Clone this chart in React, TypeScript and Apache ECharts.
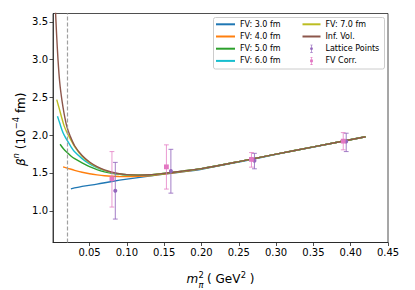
import React, { useEffect, useRef } from "react";
import * as echarts from "echarts";

const FONT = "DejaVu Sans";

// x: m_pi^2 (GeV^2), y: beta^n (10^-4 fm)
const fv30 = [
  [0.025, 1.29], [0.04, 1.322], [0.06, 1.352], [0.08, 1.387], [0.1, 1.418], [0.125, 1.452],
  [0.15, 1.484], [0.175, 1.515], [0.2, 1.55], [0.25, 1.645], [0.3, 1.746], [0.35, 1.844], [0.42, 1.98],
];
const fv40 = [
  [0.0145, 1.58], [0.02, 1.565], [0.03, 1.535], [0.04, 1.51], [0.05, 1.49], [0.06, 1.475], [0.07, 1.463],
  [0.08, 1.456], [0.09, 1.453], [0.1, 1.452], [0.115, 1.455], [0.13, 1.463], [0.15, 1.485], [0.175, 1.518],
  [0.2, 1.555], [0.25, 1.65], [0.3, 1.75], [0.35, 1.845], [0.42, 1.98],
];
const fv50 = [
  [0.0105, 1.88], [0.015, 1.82], [0.02, 1.77], [0.025, 1.725], [0.03, 1.69], [0.04, 1.635], [0.05, 1.585],
  [0.06, 1.545], [0.07, 1.515], [0.08, 1.494], [0.09, 1.481], [0.1, 1.473], [0.115, 1.469], [0.13, 1.473],
  [0.15, 1.493], [0.175, 1.524], [0.2, 1.557], [0.25, 1.65], [0.3, 1.75], [0.35, 1.845], [0.42, 1.98],
];
const fv60 = [
  [0.007, 2.25], [0.01, 2.16], [0.013, 2.07], [0.016, 2.0], [0.02, 1.93], [0.025, 1.85], [0.03, 1.78],
  [0.04, 1.69], [0.05, 1.62], [0.06, 1.57], [0.07, 1.53], [0.08, 1.503], [0.09, 1.486], [0.1, 1.476],
  [0.115, 1.471], [0.13, 1.475], [0.15, 1.494], [0.175, 1.525], [0.2, 1.557], [0.25, 1.65], [0.3, 1.75],
  [0.35, 1.845], [0.42, 1.98],
];
const fv70 = [
  [0.006, 2.47], [0.008, 2.4], [0.01, 2.33], [0.013, 2.22], [0.016, 2.12], [0.0195, 2.04], [0.024, 1.955],
  [0.03, 1.85], [0.04, 1.72], [0.05, 1.635], [0.06, 1.578], [0.07, 1.535], [0.08, 1.505], [0.09, 1.487],
  [0.1, 1.477], [0.115, 1.471], [0.13, 1.475], [0.15, 1.495], [0.175, 1.525], [0.2, 1.557], [0.25, 1.65],
  [0.3, 1.75], [0.35, 1.845], [0.42, 1.98],
];
const infVol = [
  [0.0042, 3.68], [0.005, 3.5], [0.006, 3.3], [0.0077, 3.0], [0.01, 2.7], [0.013, 2.46], [0.016, 2.28],
  [0.0197, 2.11], [0.024, 1.99], [0.03, 1.86], [0.04, 1.73], [0.05, 1.645], [0.06, 1.585], [0.07, 1.54],
  [0.08, 1.51], [0.09, 1.49], [0.1, 1.478], [0.115, 1.472], [0.13, 1.476], [0.15, 1.495], [0.175, 1.525],
  [0.2, 1.557], [0.25, 1.65], [0.3, 1.75], [0.35, 1.845], [0.42, 1.98],
];
// [x, y, low, high]
const latticePoints = [
  [0.0845, 1.265, 0.89, 1.64],
  [0.159, 1.527, 1.233, 1.813],
  [0.271, 1.663, 1.555, 1.76],
  [0.394, 1.915, 1.783, 2.026],
];
const fvCorr = [
  [0.08, 1.423, 1.049, 1.783],
  [0.153, 1.581, 1.287, 1.872],
  [0.267, 1.68, 1.577, 1.77],
  [0.39, 1.921, 1.806, 2.034],
];
const xTicks = [0.05, 0.1, 0.15, 0.2, 0.25, 0.3, 0.35, 0.4, 0.45];
const yTicks = [1.0, 1.5, 2.0, 2.5, 3.0, 3.5];
const physicalPoint = 0.0195;

const curveNames = ["FV: 3.0 fm", "FV: 4.0 fm", "FV: 5.0 fm", "FV: 6.0 fm", "FV: 7.0 fm", "Inf. Vol."];
const curveColors = ["#1f77b4", "#ff7f0e", "#2ca02c", "#17becf", "#bcbd22", "#8c564b"];
const curves = [fv30, fv40, fv50, fv60, fv70, infVol];

const PURPLE = "#9467bd";
const PINK = "#e377c2";

const ICON_DOT =
  "path://M2,0H8V1.5H2Z M4.2,1H5.8V19H4.2Z M2,18.5H8V20H2Z M8.5,10A3.5,3.5 0 1 1 1.5,10A3.5,3.5 0 1 1 8.5,10Z";
const ICON_SQ =
  "path://M2,0H8V1.5H2Z M4.2,1H5.8V19H4.2Z M2,18.5H8V20H2Z M1.5,6.5H8.5V13.5H1.5Z";

const AXIS_COLOR = "#222";

function errorSeries(name: string, data: number[][], color: string, square: boolean, barOpacity: number) {
  return {
    name,
    type: "custom",
    coordinateSystem: "cartesian2d",
    data,
    encode: { x: 0, y: 1 },
    itemStyle: { color },
    z: 5,
    renderItem: (params: any, api: any) => {
      const x = api.value(0);
      const p = api.coord([x, api.value(1)]);
      const pl = api.coord([x, api.value(2)]);
      const ph = api.coord([x, api.value(3)]);
      const cw = 2.4;
      const ls = { stroke: color, lineWidth: 1, opacity: barOpacity };
      const marker = square
        ? { type: "rect", shape: { x: p[0] - 2.4, y: p[1] - 2.4, width: 4.8, height: 4.8 }, style: { fill: color } }
        : { type: "circle", shape: { cx: p[0], cy: p[1], r: 2 }, style: { fill: color } };
      return {
        type: "group",
        children: [
          { type: "line", shape: { x1: p[0], y1: ph[1], x2: p[0], y2: pl[1] }, style: ls },
          { type: "line", shape: { x1: p[0] - cw, y1: ph[1], x2: p[0] + cw, y2: ph[1] }, style: ls },
          { type: "line", shape: { x1: p[0] - cw, y1: pl[1], x2: p[0] + cw, y2: pl[1] }, style: ls },
          marker,
        ],
      };
    },
  };
}

function txt(text: string, x: number, y: number, size: number, italic = false) {
  return {
    type: "text",
    x,
    y,
    style: {
      text,
      fill: "#000",
      fontSize: size,
      fontFamily: FONT,
      fontStyle: italic ? "italic" : "normal",
      align: "left",
      verticalAlign: "middle",
    },
  };
}

export default function App() {
  const ref = useRef<HTMLDivElement>(null);
  useEffect(() => {
    if (!ref.current) return;
    const chart = echarts.init(ref.current, null, { renderer: "svg" });
    const lineSeries = curves.map((d, i) => ({
      name: curveNames[i],
      type: "line",
      data: d,
      showSymbol: false,
      symbol: "none",
      smooth: 0.3,
      clip: true,
      lineStyle: { color: curveColors[i], width: 1.4 },
      itemStyle: { color: curveColors[i] },
      z: 2,
      ...(i === 0
        ? {
            markLine: {
              silent: true,
              symbol: ["none", "none"],
              label: { show: false },
              lineStyle: { type: [4, 2], color: "#a0a0a0", width: 1.2 },
              data: [{ xAxis: physicalPoint }],
            },
          }
        : {}),
    }));
    const legendText = { fontSize: 8, fontFamily: FONT, color: "#000", lineHeight: 8 };
    const lineItem = (name: string) => ({ name, itemStyle: { opacity: 0 } });
    chart.setOption({
      animation: false,
      grid: {
        left: 53,
        right: 27,
        top: 13.5,
        bottom: 47.5,
        show: true,
        borderColor: AXIS_COLOR,
        borderWidth: 0.8,
        backgroundColor: "transparent",
      },
      xAxis: {
        type: "value",
        min: 0.001,
        max: 0.45,
        axisLine: { show: true, onZero: false, lineStyle: { color: AXIS_COLOR, width: 0.8 } },
        axisTick: { show: true, inside: false, length: 3.5, customValues: xTicks, lineStyle: { color: AXIS_COLOR, width: 0.8 } },
        axisLabel: {
          customValues: xTicks,
          formatter: (v: number) => v.toFixed(2),
          fontSize: 10,
          fontFamily: FONT,
          color: "#000",
          margin: 4.5,
        },
        splitLine: { show: false },
      },
      yAxis: {
        type: "value",
        min: 0.58,
        max: 3.61,
        axisLine: { show: true, onZero: false, lineStyle: { color: AXIS_COLOR, width: 0.8 } },
        axisTick: { show: true, inside: false, length: 3.5, customValues: yTicks, lineStyle: { color: AXIS_COLOR, width: 0.8 } },
        axisLabel: {
          customValues: yTicks,
          formatter: (v: number) => v.toFixed(1),
          fontSize: 10,
          fontFamily: FONT,
          color: "#000",
          margin: 5,
        },
        splitLine: { show: false },
      },
      legend: [
        {
          orient: "vertical",
          left: 215,
          top: 20.3,
          padding: 0,
          itemGap: 4.2,
          itemWidth: 19,
          itemHeight: 8,
          textStyle: legendText,
          data: curveNames.slice(0, 4).map(lineItem),
        },
        {
          orient: "vertical",
          left: 301.5,
          top: 20.3,
          padding: 0,
          itemGap: 4.2,
          itemWidth: 18,
          itemHeight: 8,
          textStyle: legendText,
          data: [
            lineItem(curveNames[4]),
            lineItem(curveNames[5]),
            { name: "Lattice Points", icon: ICON_DOT },
            { name: "FV Corr.", icon: ICON_SQ },
          ],
        },
      ],
      graphic: [
        {
          type: "rect",
          z: 3,
          shape: { x: 213.5, y: 17.5, width: 171, height: 51.5, r: 2 },
          style: { fill: "rgba(255,255,255,0.8)", stroke: "#cccccc", lineWidth: 1 },
        },
        // x axis label: m_pi^2 ( GeV^2 )
        txt("m", 186.5, 279, 12, true),
        txt("2", 198.4, 274.5, 8.4),
        txt("π", 198.4, 284.5, 8.4, true),
        txt("( GeV", 207, 279, 12),
        txt("2", 240.8, 274.5, 8.4),
        txt(" )", 246, 279, 12),
        {
          type: "group",
          x: 20.5,
          y: 166,
          rotation: Math.PI / 2,
          children: [
            txt("β", 0, 0, 12, true),
            txt("n", 7.6, -4.5, 8.4, true),
            txt("(10", 16.7, 0, 12),
            txt("−4", 36.7, -4.5, 8.4),
            txt("fm)", 52.9, 0, 12),
          ],
        },
      ],
      series: [
        ...lineSeries,
        errorSeries("Lattice Points", latticePoints, PURPLE, false, 0.85),
        errorSeries("FV Corr.", fvCorr, PINK, true, 0.75),
      ],
    });
    return () => chart.dispose();
  }, []);
  return <div ref={ref} style={{ position: "absolute", left: 0, top: 0, width: 415, height: 290 }} />;
}
